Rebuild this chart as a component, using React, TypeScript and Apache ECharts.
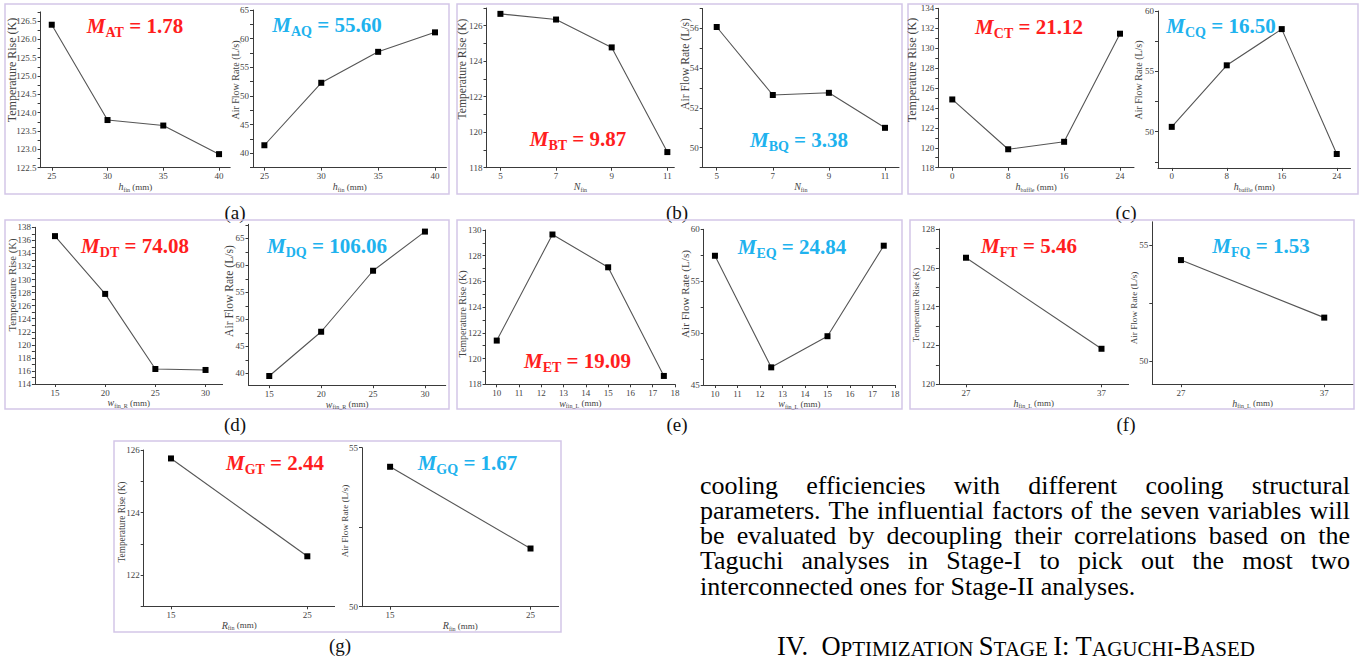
import React, { useEffect, useRef } from "react";
import * as echarts from "echarts";

// ---------- data ----------
const hFin = [25, 30, 35, 40];
const tempA = [126.4, 123.8, 123.65, 122.87];
const flowA = [41.4, 52.3, 57.7, 61.1];
const nFin = [5, 7, 9, 11];
const tempB = [126.67, 126.35, 124.78, 118.88];
const flowB = [56.07, 52.65, 52.76, 51.0];
const hBaffle = [0, 8, 16, 24];
const tempC = [124.85, 119.85, 120.6, 131.45];
const flowC = [50.4, 55.5, 58.5, 48.15];
const wFinR = [15, 20, 25, 30];
const tempD = [136.65, 127.8, 116.3, 116.15];
const flowD = [39.5, 47.7, 59.0, 66.25];
const wFinL = [10, 12.5, 15, 17.5];
const tempE = [121.4, 129.65, 127.1, 118.65];
const flowE = [57.45, 46.7, 49.7, 58.42];
const hFinL = [27, 37];
const tempF = [126.52, 121.83];
const flowF = [54.35, 51.87];
const rFin = [15, 25];
const tempG = [125.73, 122.6];
const flowG = [54.4, 51.83];

// x tick labels
const ticksHFin = [25, 30, 35, 40];
const ticksNFin = [5, 7, 9, 11];
const ticksHBaffle = [0, 8, 16, 24];
const ticksWFinR = [15, 20, 25, 30];
const ticksWFinL = [10, 11, 12, 13, 14, 15, 16, 17, 18];
const ticksHFinL = [27, 37];
const ticksRFin = [15, 25];

// y tick labels
const yTicksAT = [122.5, 123, 123.5, 124, 124.5, 125, 125.5, 126, 126.5];
const yTicksAQ = [40, 45, 50, 55, 60, 65];
const yTicksBT = [118, 120, 122, 124, 126];
const yTicksBQ = [50, 52, 54, 56];
const yTicksCT = [118, 120, 122, 124, 126, 128, 130, 132, 134];
const yTicksCQ = [50, 55, 60];
const yTicksDT = [114, 116, 118, 120, 122, 124, 126, 128, 130, 132, 134, 136, 138];
const yTicksDQ = [40, 45, 50, 55, 60, 65];
const yTicksET = [118, 120, 122, 124, 126, 128, 130];
const yTicksEQ = [45, 50, 55, 60];
const yTicksFT = [120, 122, 124, 126, 128];
const yTicksFQ = [50, 55];
const yTicksGT = [122, 124, 126];
const yTicksGQ = [50, 55];

const paraLines = [
  "cooling efficiencies with different cooling structural",
  "parameters. The influential factors of the seven variables will",
  "be evaluated by decoupling their correlations based on the",
  "Taguchi analyses in Stage-I to pick out the most two",
  "interconnected ones for Stage-II analyses.",
];

// ---------- layout / styles ----------
const FONT = "'Liberation Serif', 'Times New Roman', serif";
const RED = "#FF1E1E";
const BLUE = "#20B2EE";
const AXIS = "#3a3a3a";
const LABEL = "#444";
const TEMP = "Temperature Rise (K)";
const FLOW = "Air Flow Rate (L/s)";

type Spec = {
  xs: number[];
  ys: number[];
  box: [number, number, number, number];
  xr: [number, number];
  xt: number[];
  yr: [number, number];
  yt: number[];
  yDec: number;
  yName: string;
  yNamePos: [number, number, number];
  xName: [string, string, string];
  title: [string, string, string, number, number];
};

const specs: Spec[] = [
  { xs: hFin, ys: tempA, box: [40.6, 11.9, 230.2, 167.7], xr: [24, 41], xt: ticksHFin, yr: [122.5, 126.75], yt: yTicksAT, yDec: 1, yName: TEMP, yNamePos: [12, 70, 12], xName: ["h", "fin", " (mm)"], title: ["AT", "1.78", RED, 135, 26] },
  { xs: hFin, ys: flowA, box: [253, 10, 446.4, 167.6], xr: [24, 41], xt: ticksHFin, yr: [37.5, 65], yt: yTicksAQ, yDec: 0, yName: FLOW, yNamePos: [235, 80, 10], xName: ["h", "fin", " (mm)"], title: ["AQ", "55.60", BLUE, 327, 25] },
  { xs: nFin, ys: tempB, box: [486.5, 8, 674.3, 167.7], xr: [4.5, 11.25], xt: ticksNFin, yr: [118, 127], yt: yTicksBT, yDec: 0, yName: TEMP, yNamePos: [462.3, 69, 11.6], xName: ["N", "fin", ""], title: ["BT", "9.87", RED, 578, 139] },
  { xs: nFin, ys: flowB, box: [702.7, 8.5, 899, 167.6], xr: [4.5, 11.5], xt: ticksNFin, yr: [49, 57], yt: yTicksBQ, yDec: 0, yName: FLOW, yNamePos: [685, 64, 11.6], xName: ["N", "fin", ""], title: ["BQ", "3.38", BLUE, 799, 140] },
  { xs: hBaffle, ys: tempC, box: [938.3, 8.3, 1134, 167.7], xr: [-2, 26], xt: ticksHBaffle, yr: [118, 134], yt: yTicksCT, yDec: 0, yName: TEMP, yNamePos: [912.3, 70, 12], xName: ["h", "baffle", " (mm)"], title: ["CT", "21.12", RED, 1029, 27] },
  { xs: hBaffle, ys: flowC, box: [1158, 11, 1350.5, 167.9], xr: [-2, 26], xt: ticksHBaffle, yr: [47, 60], yt: yTicksCQ, yDec: 0, yName: FLOW, yNamePos: [1138.3, 80, 10], xName: ["h", "baffle", " (mm)"], title: ["CQ", "16.50", BLUE, 1221, 26] },
  { xs: wFinR, ys: tempD, box: [34.9, 227.3, 222.6, 384], xr: [13, 31.7], xt: ticksWFinR, yr: [114, 138], yt: yTicksDT, yDec: 0, yName: TEMP, yNamePos: [11.7, 285, 10.7], xName: ["w", "fin_R", " (mm)"], title: ["DT", "74.08", RED, 135, 246] },
  { xs: wFinR, ys: flowD, box: [248.5, 224.3, 445.7, 385.2], xr: [13, 32], xt: ticksWFinR, yr: [37.8, 67.6], yt: yTicksDQ, yDec: 0, yName: FLOW, yNamePos: [229, 291, 11.6], xName: ["w", "fin_R", " (mm)"], title: ["DQ", "106.06", BLUE, 327, 246] },
  { xs: wFinL, ys: tempE, box: [485.6, 230, 675, 384.3], xr: [9.5, 18], xt: ticksWFinL, yr: [118, 130], yt: yTicksET, yDec: 0, yName: TEMP, yNamePos: [462.3, 314, 10], xName: ["w", "fin_L", " (mm)"], title: ["ET", "19.09", RED, 577.5, 361] },
  { xs: wFinL, ys: flowE, box: [703.7, 229.3, 895, 385], xr: [9.5, 18], xt: ticksWFinL, yr: [45, 60], yt: yTicksEQ, yDec: 0, yName: FLOW, yNamePos: [685, 294, 11.1], xName: ["w", "fin_L", " (mm)"], title: ["EQ", "24.84", BLUE, 792, 247] },
  { xs: hFinL, ys: tempF, box: [938.9, 229, 1128.6, 384.3], xr: [25, 39], xt: ticksHFinL, yr: [120, 128], yt: yTicksFT, yDec: 0, yName: TEMP, yNamePos: [916, 305, 8.5], xName: ["h", "fin_L", " (mm)"], title: ["FT", "5.46", RED, 1029, 246] },
  { xs: hFinL, ys: flowF, box: [1152.3, 221.8, 1352.9, 384.2], xr: [25, 39], xt: ticksHFinL, yr: [49, 56], yt: yTicksFQ, yDec: 0, yName: FLOW, yNamePos: [1134, 308, 9.2], xName: ["h", "fin_L", " (mm)"], title: ["FQ", "1.53", BLUE, 1261, 246] },
  { xs: rFin, ys: tempG, box: [143.7, 450, 334.6, 606.3], xr: [13, 27], xt: ticksRFin, yr: [121, 126], yt: yTicksGT, yDec: 0, yName: TEMP, yNamePos: [121.7, 522, 9.3], xName: ["R", "fin", " (mm)"], title: ["GT", "2.44", RED, 275, 463] },
  { xs: rFin, ys: flowG, box: [362, 447.7, 558.6, 606.7], xr: [13, 27], xt: ticksRFin, yr: [50, 55], yt: yTicksGQ, yDec: 0, yName: FLOW, yNamePos: [345, 521, 9.2], xName: ["R", "fin", " (mm)"], title: ["GQ", "1.67", BLUE, 467.5, 463] },
];

// panel frames: x, y, w, h, label, labelX, labelY
const panels: [number, number, number, number, string, number, number][] = [
  [5, 4, 444, 190, "(a)", 235, 212],
  [457, 4, 445, 190, "(b)", 677, 212],
  [908, 4, 450, 190, "(c)", 1126, 212],
  [5, 220, 444, 189, "(d)", 235, 424],
  [457, 220, 445, 189, "(e)", 677, 424],
  [910, 220, 444, 189, "(f)", 1126, 424],
  [114, 441, 447, 191, "(g)", 340, 645],
];

const PARA_X0 = 700;
const PARA_X1 = 1350;
const PARA_SIZE = 26;
const PARA_Y0 = 485;
const PARA_LH = 25.3;

function minorTicks(labels: number[], min: number, max: number): number[] {
  const step = labels.length > 1 ? labels[1] - labels[0] : 1;
  const half = step / 2;
  const out: number[] = [];
  for (let v = labels[0] - half; v >= min - 1e-9; v -= step) out.push(+v.toFixed(4));
  for (let v = labels[0] + half; v <= max + 1e-9; v += step) out.push(+v.toFixed(4));
  return out;
}

function measure(text: string, font: string): number {
  const c = document.createElement("canvas").getContext("2d");
  if (!c) return text.length * 10;
  c.font = font;
  return c.measureText(text).width;
}

function buildOption() {
  const grid = specs.map((s) => ({
    left: s.box[0],
    top: s.box[1],
    width: s.box[2] - s.box[0],
    height: s.box[3] - s.box[1],
    containLabel: false,
  }));
  const nameRich = {
    i: { fontStyle: "italic", fontSize: 10, fontFamily: FONT, color: LABEL },
    s: { fontSize: 6, fontFamily: FONT, color: LABEL, lineHeight: 6, verticalAlign: "bottom" },
    n: { fontSize: 9, fontFamily: FONT, color: LABEL, lineHeight: 12 },
  };
  const xAxis = specs.map((s, i) => ({
    type: "value",
    gridIndex: i,
    min: s.xr[0],
    max: s.xr[1],
    splitLine: { show: false },
    axisLine: { onZero: false, lineStyle: { color: AXIS, width: 1 } },
    axisTick: { show: true, length: 3, customValues: s.xt, lineStyle: { color: AXIS, width: 1 } },
    axisLabel: { customValues: s.xt, fontSize: 9, fontFamily: FONT, color: LABEL, margin: 4 },
    name: `{i|${s.xName[0]}}{s|${s.xName[1]}}{n|${s.xName[2]}}`,
    nameLocation: "middle",
    nameGap: 12,
    nameTextStyle: { rich: nameRich },
  }));
  const yAxis = specs.map((s, i) => ({
    type: "value",
    gridIndex: i,
    min: s.yr[0],
    max: s.yr[1],
    splitLine: { show: false },
    axisLine: { onZero: false, lineStyle: { color: AXIS, width: 1 } },
    axisTick: {
      show: true,
      length: 3,
      customValues: [...s.yt, ...minorTicks(s.yt, s.yr[0], s.yr[1])],
      lineStyle: { color: AXIS, width: 1 },
    },
    axisLabel: {
      customValues: s.yt,
      fontSize: 9,
      fontFamily: FONT,
      color: LABEL,
      margin: 4,
      formatter: (v: number) => v.toFixed(s.yDec),
    },
  }));
  const series = specs.map((s, i) => ({
    type: "line",
    xAxisIndex: i,
    yAxisIndex: i,
    data: s.xs.map((x, j) => [x, s.ys[j]]),
    symbol: "rect",
    symbolSize: 6,
    itemStyle: { color: "#000" },
    lineStyle: { color: "#555", width: 1.1 },
    silent: true,
  }));

  const elements: any[] = [];
  panels.forEach((p) => {
    elements.push({
      type: "rect",
      shape: { x: p[0], y: p[1], width: p[2], height: p[3] },
      style: { fill: "none", stroke: "#D3C6E8", lineWidth: 1.5 },
      silent: true,
    });
    elements.push({
      type: "text",
      x: p[5],
      y: p[6],
      style: { text: p[4], fontSize: 19, fontFamily: FONT, fill: "#111", align: "center", verticalAlign: "middle" },
    });
  });
  specs.forEach((s) => {
    const [sub, val, color, cx, cy] = s.title;
    elements.push({
      type: "text",
      x: cx,
      y: cy,
      z: 10,
      style: {
        text: `{m|M}{s|${sub}}{v| = ${val}}`,
        align: "center",
        verticalAlign: "middle",
        rich: {
          m: { fontSize: 21, fontStyle: "italic", fontWeight: "bold", fontFamily: FONT, fill: color, lineHeight: 26 },
          s: { fontSize: 14, fontWeight: "bold", fontFamily: FONT, fill: color, lineHeight: 14, verticalAlign: "bottom" },
          v: { fontSize: 21, fontWeight: "bold", fontFamily: FONT, fill: color, lineHeight: 26 },
        },
      },
    });
    elements.push({
      type: "text",
      x: s.yNamePos[0],
      y: s.yNamePos[1],
      rotation: Math.PI / 2,
      style: {
        text: s.yName,
        fontSize: s.yNamePos[2],
        fontFamily: FONT,
        fill: LABEL,
        align: "center",
        verticalAlign: "middle",
      },
    });
  });

  // justified paragraph
  const paraFont = `${PARA_SIZE}px 'Liberation Serif'`;
  paraLines.forEach((line, li) => {
    const y = PARA_Y0 + li * PARA_LH;
    const words = line.split(" ");
    const base = {
      fontSize: PARA_SIZE,
      lineHeight: 24,
      fontFamily: FONT,
      fill: "#000",
      align: "left",
      verticalAlign: "middle",
    };
    if (li === paraLines.length - 1) {
      elements.push({ type: "text", x: PARA_X0, y, style: { ...base, text: line } });
      return;
    }
    const widths = words.map((w) => measure(w, paraFont));
    const total = widths.reduce((a, b) => a + b, 0);
    const gap = (PARA_X1 - PARA_X0 - total) / (words.length - 1);
    let x = PARA_X0;
    words.forEach((w, wi) => {
      elements.push({ type: "text", x, y, style: { ...base, text: w } });
      x += widths[wi] + gap;
    });
  });

  // section heading in small caps
  elements.push({
    type: "text",
    x: 1016,
    y: 647,
    style: {
      text: "{b|IV.  O}{c|PTIMIZATION }{b|S}{c|TAGE }{b|I: T}{c|AGUCHI}{b|-B}{c|ASED}",
      align: "center",
      verticalAlign: "middle",
      rich: {
        b: { fontSize: 26.5, fontFamily: FONT, fill: "#000", lineHeight: 24, verticalAlign: "bottom" },
        c: { fontSize: 21, fontFamily: FONT, fill: "#000", lineHeight: 19, verticalAlign: "bottom" },
      },
    },
  });

  return {
    animation: false,
    backgroundColor: "#fff",
    grid,
    xAxis,
    yAxis,
    series,
    graphic: { elements },
  };
}

export default function App() {
  const ref = useRef<HTMLDivElement>(null);
  useEffect(() => {
    if (!ref.current) return;
    const chart = echarts.init(ref.current, null, { renderer: "svg" });
    chart.setOption(buildOption() as any);
    return () => chart.dispose();
  }, []);
  return (
    <div
      ref={ref}
      style={{ position: "absolute", left: 0, top: 0, width: 1363, height: 661, background: "#fff" }}
    />
  );
}
